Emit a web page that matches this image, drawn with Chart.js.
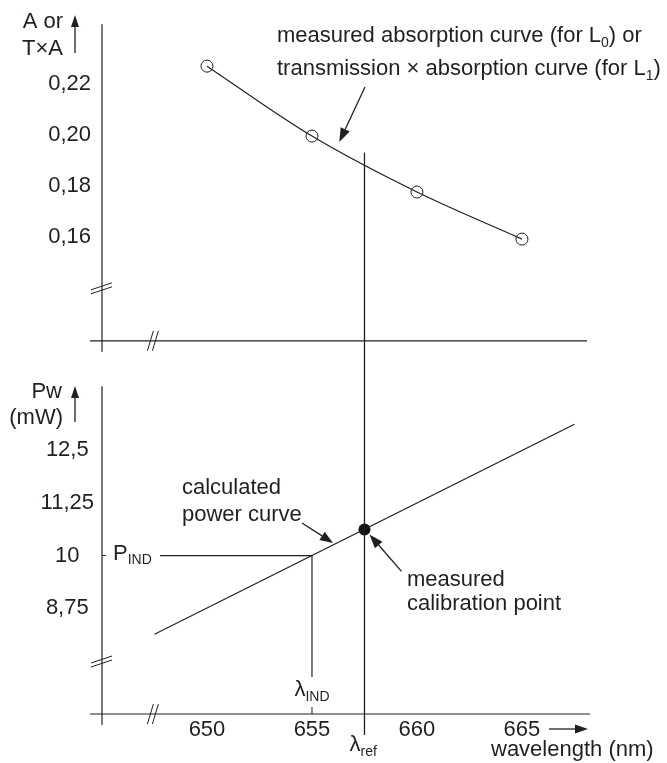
<!DOCTYPE html>
<html>
<head>
<meta charset="utf-8">
<script src="https://cdn.jsdelivr.net/npm/chart.js@4.4.1/dist/chart.umd.min.js"></script>
<style>
  html, body { margin: 0; padding: 0; background: #fff; }
  #wrap { position: relative; width: 667px; height: 763px; }
  #top { position: absolute; left: 0; top: 0; }
  #bot { position: absolute; left: 0; top: 365px; }
</style>
</head>
<body>
<div id="wrap">
  <canvas id="top" width="667" height="365"></canvas>
  <canvas id="bot" width="667" height="398"></canvas>
</div>
<script>
// absorption panel
const wavelengths = [650, 655, 660, 665];
const absorption = [0.227, 0.1995, 0.1775, 0.159];
const absTicks = [0.16, 0.18, 0.20, 0.22];
const absTickLabels = ['0,16', '0,18', '0,20', '0,22'];

// power panel
const powerX = [647.5, 667.5];
const powerY = [8.14, 13.11];
const powerTicks = [8.75, 10, 11.25, 12.5];
const powerTickLabels = ['8,75', '10', '11,25', '12,5'];
const wlTicks = [650, 655, 660, 665];
const wlTickLabels = ['650', '655', '660', '665'];

const lambdaRef = 657.5;
const calPoint = { x: 657.5, y: 10.62 };
const lambdaInd = 655;
const pInd = 10;

const INK = '#231f20';
const FONT = '"Liberation Sans", Arial, sans-serif';
const F = (s) => s + 'px ' + FONT;
const BIG = 22, SUB = 14;

function line(ctx, x1, y1, x2, y2, w) {
  ctx.beginPath();
  ctx.lineWidth = w || 1.2;
  ctx.moveTo(x1, y1);
  ctx.lineTo(x2, y2);
  ctx.stroke();
}

function arrow(ctx, x1, y1, x2, y2, len, half) {
  len = len || 13; half = half || 4.5;
  const a = Math.atan2(y2 - y1, x2 - x1);
  const bx = x2 - len * Math.cos(a), by = y2 - len * Math.sin(a);
  line(ctx, x1, y1, bx, by, 1.3);
  ctx.beginPath();
  ctx.moveTo(x2, y2);
  ctx.lineTo(bx + half * Math.sin(a), by - half * Math.cos(a));
  ctx.lineTo(bx - half * Math.sin(a), by + half * Math.cos(a));
  ctx.closePath();
  ctx.fill();
}

// text with subscripts: parts = [[text, isSub], ...]
function rich(ctx, parts, x, y, align) {
  ctx.textBaseline = 'middle';
  let w = 0;
  parts.forEach(p => { ctx.font = F(p[1] ? SUB : BIG); w += ctx.measureText(p[0]).width; });
  let cx = align === 'right' ? x - w : (align === 'center' ? x - w / 2 : x);
  ctx.textAlign = 'left';
  parts.forEach(p => {
    ctx.font = F(p[1] ? SUB : BIG);
    ctx.fillText(p[0], cx, p[1] ? y + 7 : y);
    cx += ctx.measureText(p[0]).width;
  });
}

function yBreak(ctx, x, y) {
  line(ctx, x - 11, y + 2, x + 10, y - 5, 1);
  line(ctx, x - 11, y + 6, x + 10, y - 1, 1);
}
function xBreak(ctx, x, y) {
  line(ctx, x - 5, y + 10, x + 1, y - 10, 1);
  line(ctx, x, y + 10, x + 6, y - 10, 1);
}

function setTicks(values) {
  return function (scale) { scale.ticks = values.map(v => ({ value: v })); };
}

const topPlugin = {
  id: 'topDeco',
  afterDraw(chart) {
    const ctx = chart.ctx, a = chart.chartArea;
    const xs = chart.scales.x, ys = chart.scales.y;
    ctx.save();
    ctx.strokeStyle = INK; ctx.fillStyle = INK;
    // axes
    line(ctx, a.left, a.top, a.left, a.bottom + 11);
    line(ctx, a.left - 12, a.bottom, a.right - 3, a.bottom);
    yBreak(ctx, a.left, a.bottom - 53);
    xBreak(ctx, xs.getPixelForValue(647.4), a.bottom);
    // lambda ref line
    const xr = xs.getPixelForValue(lambdaRef);
    line(ctx, xr, ys.getPixelForValue(0.193), xr, chart.height, 1.3);
    // axis title
    rich(ctx, [['A or', false]], 63, 22, 'right');
    rich(ctx, [['T\u00d7A', false]], 63, 49, 'right');
    arrow(ctx, 75, 53, 75, 15, 12, 4);
    // annotation
    rich(ctx, [['measured absorption curve (for L', false], ['0', true], [') or', false]], 277, 36, 'left');
    rich(ctx, [['transmission \u00d7 absorption curve (for L', false], ['1', true], [')', false]], 277, 69, 'left');
    arrow(ctx, 365, 87, xs.getPixelForValue(656.3), ys.getPixelForValue(0.1972), 14, 5);
    ctx.restore();
  }
};

const botPlugin = {
  id: 'botDeco',
  afterDraw(chart) {
    const ctx = chart.ctx, a = chart.chartArea;
    const xs = chart.scales.x, ys = chart.scales.y;
    ctx.save();
    ctx.strokeStyle = INK; ctx.fillStyle = INK;
    line(ctx, a.left, a.top, a.left, a.bottom + 11);
    line(ctx, a.left - 12, a.bottom, a.right, a.bottom);
    yBreak(ctx, a.left, a.bottom - 53);
    xBreak(ctx, xs.getPixelForValue(647.4), a.bottom);
    // lambda ref line
    const xr = xs.getPixelForValue(lambdaRef);
    line(ctx, xr, 0, xr, a.bottom + 21, 1.3);
    rich(ctx, [['\u03bb', false], ['ref', true]], xr - 15, a.bottom + 31, 'left');
    // P_IND / lambda_IND guides
    const xi = xs.getPixelForValue(lambdaInd), yi = ys.getPixelForValue(pInd);
    line(ctx, a.left, yi, a.left + 4, yi, 1);
    rich(ctx, [['P', false], ['IND', true]], a.left + 11, yi - 2, 'left');
    line(ctx, a.left + 58, yi, xi, yi, 1.2);
    line(ctx, xi, yi, xi, a.bottom - 37, 1.2);
    rich(ctx, [['\u03bb', false], ['IND', true]], xi, a.bottom - 24, 'center');
    line(ctx, xi, a.bottom - 7, xi, a.bottom, 1);
    // axis title
    rich(ctx, [['Pw', false]], 62, 27, 'right');
    rich(ctx, [['(mW)', false]], 63, 53, 'right');
    arrow(ctx, 75, 57, 75, 21, 12, 4);
    // x title
    arrow(ctx, 549, a.bottom + 15, 588, a.bottom + 15, 13, 4.5);
    rich(ctx, [['wavelength (nm)', false]], 491, a.bottom + 36, 'left');
    // annotations
    rich(ctx, [['calculated', false]], 182, 123, 'left');
    rich(ctx, [['power curve', false]], 182, 150, 'left');
    const tx = xs.getPixelForValue(656.0);
    const ty = ys.getPixelForValue(powerY[0] + (656.0 - powerX[0]) * (powerY[1] - powerY[0]) / (powerX[1] - powerX[0]));
    arrow(ctx, tx - 31, ty - 22, tx, ty - 2, 13, 5);
    rich(ctx, [['measured', false]], 407, 215, 'left');
    rich(ctx, [['calibration point', false]], 407, 239, 'left');
    const cx = xs.getPixelForValue(calPoint.x), cy = ys.getPixelForValue(calPoint.y);
    arrow(ctx, cx + 37, cy + 42, cx + 5, cy + 5, 14, 5);
    ctx.restore();
  }
};

const tickFont = { family: FONT, size: BIG };

new Chart(document.getElementById('top').getContext('2d'), {
  type: 'line',
  data: {
    datasets: [{
      data: wavelengths.map((w, i) => ({ x: w, y: absorption[i] })),
      borderColor: INK,
      borderWidth: 1.2,
      tension: 0.35,
      pointRadius: 6,
      pointBorderWidth: 1,
      pointBorderColor: INK,
      pointBackgroundColor: 'rgba(0,0,0,0)'
    }]
  },
  options: {
    responsive: false,
    animation: false,
    layout: { padding: { top: 15, bottom: 22, right: 77, left: 0 } },
    plugins: { legend: { display: false }, tooltip: { enabled: false } },
    scales: {
      x: { type: 'linear', display: false, min: 645, max: 668.24 },
      y: {
        min: 0.119, max: 0.2435,
        afterBuildTicks: setTicks(absTicks),
        afterFit: (s) => { s.width = 102; },
        grid: { display: false, drawTicks: false },
        border: { display: false },
        ticks: {
          color: INK, font: tickFont, padding: 11,
          callback: (v) => absTickLabels[absTicks.indexOf(v)]
        }
      }
    }
  },
  plugins: [topPlugin]
});

new Chart(document.getElementById('bot').getContext('2d'), {
  type: 'line',
  data: {
    datasets: [{
      data: powerX.map((w, i) => ({ x: w, y: powerY[i] })),
      borderColor: INK,
      borderWidth: 1.2,
      pointRadius: 0
    }, {
      data: [calPoint],
      showLine: false,
      pointRadius: 6,
      pointBorderWidth: 0,
      pointBackgroundColor: '#111'
    }]
  },
  options: {
    responsive: false,
    animation: false,
    layout: { padding: { top: 20, bottom: 0, right: 77, left: 0 } },
    plugins: { legend: { display: false }, tooltip: { enabled: false } },
    scales: {
      x: {
        type: 'linear', min: 645, max: 668.24,
        afterBuildTicks: setTicks(wlTicks),
        afterFit: (s) => { s.height = 49; },
        grid: { display: false, drawTicks: false },
        border: { display: false },
        ticks: {
          color: INK, font: tickFont, padding: 3, maxRotation: 0,
          callback: (v) => wlTickLabels[wlTicks.indexOf(v)]
        }
      },
      y: {
        min: 6.25, max: 14.01,
        afterBuildTicks: setTicks(powerTicks),
        afterFit: (s) => { s.width = 102; },
        grid: { display: false, drawTicks: false },
        border: { display: false },
        ticks: {
          color: INK, font: tickFont, padding: 8, crossAlign: 'center',
          callback: (v) => powerTickLabels[powerTicks.indexOf(v)]
        }
      }
    }
  },
  plugins: [botPlugin]
});
</script>
</body>
</html>
